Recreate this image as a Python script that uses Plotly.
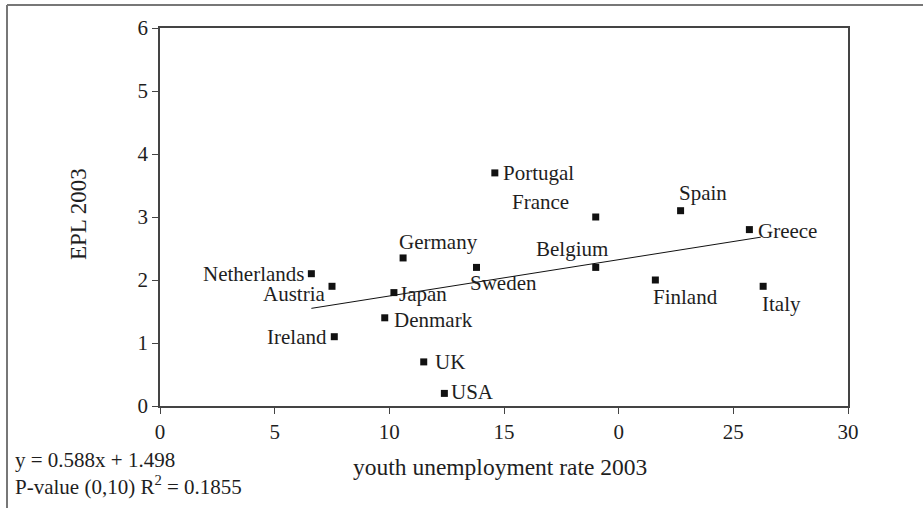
import plotly.graph_objects as go

countries = ["Netherlands", "Austria", "Ireland", "Japan", "Denmark", "Germany", "UK", "USA",
             "Sweden", "Portugal", "France", "Belgium", "Spain", "Finland", "Greece", "Italy"]
youth_unemp = [6.6, 7.5, 7.6, 10.2, 9.8, 10.6, 11.5, 12.4,
               13.8, 14.6, 19.0, 19.0, 22.7, 21.6, 25.7, 26.3]
epl = [2.1, 1.9, 1.1, 1.8, 1.4, 2.35, 0.7, 0.2,
       2.2, 3.7, 3.0, 2.2, 3.1, 2.0, 2.8, 1.9]

trend_x = [6.6, 26.2]
trend_y = [1.55, 2.68]

x_tickvals = [0, 5, 10, 15, 20, 25, 30]
x_ticktext = ["0", "5", "10", "15", "0", "25", "30"]
y_tickvals = [0, 1, 2, 3, 4, 5, 6]

x_title = "youth unemployment rate 2003"
y_title = "EPL 2003"
note_text = "y = 0.588x + 1.498<br>P-value (0,10) R<sup>2</sup> = 0.1855"

# label placement: (xanchor, xshift, yshift)
label_pos = {
    "Netherlands": ("right", -5, 0),
    "Austria": ("right", -4, -8),
    "Ireland": ("right", -5, 0),
    "Japan": ("left", 3, -1),
    "Denmark": ("left", 7, -2),
    "Germany": ("left", -6, 16),
    "UK": ("left", 9, 0),
    "USA": ("left", 5, 1),
    "Sweden": ("left", -8, -16),
    "Portugal": ("left", 6, 0),
    "France": ("right", -25, 15),
    "Belgium": ("center", -24, 18),
    "Spain": ("left", -4, 18),
    "Finland": ("left", -4, -17),
    "Greece": ("left", 7, -1),
    "Italy": ("left", -3, -18),
}

FONT = "Liberation Serif, Times New Roman, serif"
TXT = "#1e1e1e"

W, H = 923, 508
L, R, T, B = 160, 848, 28, 406

def px(xp):
    return (xp - L) / (R - L)

def py(yp):
    return (B - yp) / (B - T)

fig = go.Figure()
fig.add_trace(go.Scatter(x=trend_x, y=trend_y, mode="lines",
                         line=dict(color="#111111", width=1), hoverinfo="skip"))
fig.add_trace(go.Scatter(x=youth_unemp, y=epl, mode="markers", text=countries,
                         marker=dict(symbol="square", size=7, color="#111111")))

for name, xv, yv in zip(countries, youth_unemp, epl):
    xa, xs, ys = label_pos[name]
    fig.add_annotation(x=xv, y=yv, xref="x", yref="y", text=name, showarrow=False,
                       xanchor=xa, yanchor="middle", xshift=xs, yshift=ys,
                       font=dict(family=FONT, size=21, color=TXT))

fig.add_annotation(x=px(500), y=py(467), xref="paper", yref="paper", text=x_title,
                   xanchor="center", yanchor="middle", showarrow=False,
                   font=dict(family=FONT, size=23.5, color=TXT))
fig.add_annotation(x=px(78), y=py(214), xref="paper", yref="paper", text=y_title,
                   textangle=-90, xanchor="center", yanchor="middle", showarrow=False,
                   font=dict(family=FONT, size=23, color=TXT))
fig.add_annotation(x=px(13), y=py(473), xref="paper", yref="paper", text=note_text,
                   xanchor="left", yanchor="middle", align="left", showarrow=False,
                   font=dict(family=FONT, size=21, color=TXT))

# outer frame (only top and left edges visible)
fig.add_shape(type="line", xref="paper", yref="paper", x0=px(7), y0=py(5), x1=px(940), y1=py(5),
              line=dict(color="#777777", width=2))
fig.add_shape(type="line", xref="paper", yref="paper", x0=px(7), y0=py(5), x1=px(7), y1=py(520),
              line=dict(color="#777777", width=2))

fig.update_layout(
    width=W, height=H,
    margin=dict(l=L, r=W - R, t=T, b=H - B),
    paper_bgcolor="white", plot_bgcolor="white",
    showlegend=False,
    font=dict(family=FONT, size=21, color=TXT),
    xaxis=dict(range=[0, 30], tickvals=x_tickvals, ticktext=x_ticktext,
               showgrid=False, zeroline=False, showline=True, mirror=True,
               linecolor="#444444", linewidth=1.5, ticks="outside", ticklen=6,
               tickcolor="#444444", tickfont=dict(family=FONT, size=21, color=TXT)),
    yaxis=dict(range=[0, 6], tickvals=y_tickvals,
               showgrid=False, zeroline=False, showline=True, mirror=True,
               linecolor="#444444", linewidth=1.5, ticks="outside", ticklen=6,
               tickcolor="#444444", tickfont=dict(family=FONT, size=21, color=TXT)),
)

fig.write_html("out.html", config={"displayModeBar": False},
               post_script="document.body.style.margin='0';document.body.style.overflow='hidden';")
